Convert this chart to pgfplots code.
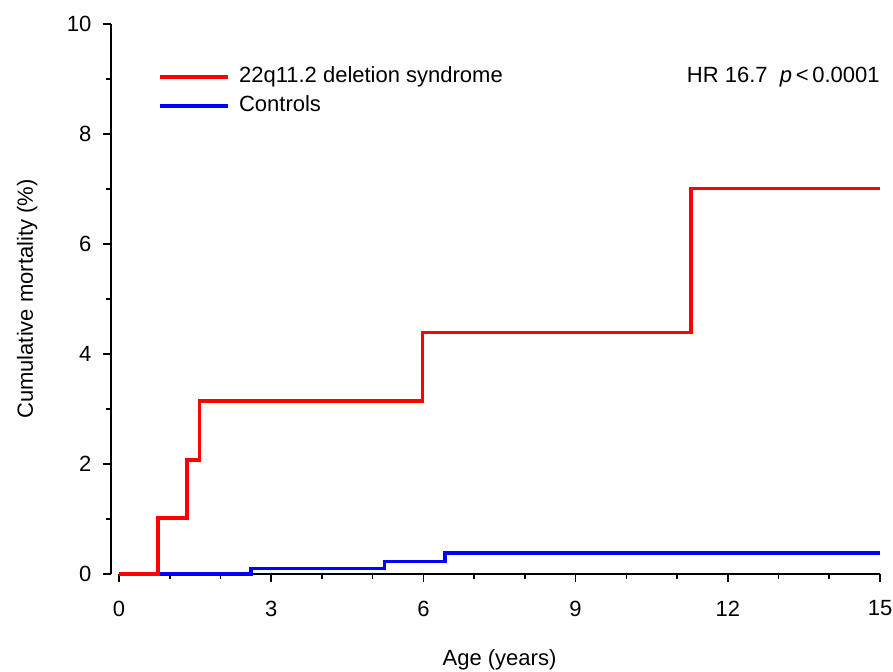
\documentclass[border=0pt]{standalone}
\usepackage{fontspec}
\setmainfont{Liberation Sans}
\usepackage{pgfplots}
\pgfplotsset{compat=1.18}
\definecolor{kmred}{RGB}{255,0,0}
\definecolor{kmblue}{RGB}{0,0,255}
\begin{document}
\fontsize{11}{13}\selectfont
\begin{tikzpicture}
\begin{axis}[
  scale only axis, width=384.5pt, height=275pt,
  xmin=-0.158, xmax=15, ymin=0, ymax=10,
  axis x line*=bottom, axis y line*=left,
  x axis line style={draw=none},
  y axis line style={black, line width=0.9pt},
  xtick={0,3,...,15}, minor xtick={0,...,15},
  ytick={0,2,...,10}, minor ytick={1,3,...,9},
  tick align=outside, major tick length=4pt, minor tick length=2.5pt,
  tick style={black, line width=0.8pt},
  /pgf/number format/assume math mode=true,
  ticklabel style={font=\fontsize{11}{13}\selectfont},
  xticklabel style={yshift=-5.5pt},
  yticklabel style={xshift=-2pt},
  clip=false,
  reverse legend,
  legend cell align=left,
  legend image code/.code={\draw[#1] (0pt,0pt) -- (34pt,0pt);},
  legend style={draw=none, fill=none, inner sep=0pt, row sep=2pt,
    font=\fontsize{11}{13}\selectfont,
    nodes={inner ysep=1pt, inner xsep=4.75pt, text height=8pt, text depth=2.5pt},
    at={(axis cs:0.76,9.27)}, anchor=north west},
]
% x axis line starts at 0, detached from the y axis
\draw[black, line width=0.9pt] (axis cs:0,0) -- (axis cs:15,0);
% controls
\addplot[kmblue, line width=1.8pt, const plot] coordinates {
  (0,0) (2.60,0.10) (5.23,0.23) (6.43,0.38) (15,0.38)};
\addlegendentry{Controls}
% 22q11.2 deletion syndrome
\addplot[kmred, line width=1.8pt, const plot] coordinates {
  (0,0) (0.77,1.02) (1.34,2.07) (1.59,3.14) (5.98,4.39) (11.28,7.01) (15,7.01)};
\addlegendentry{22q11.2 deletion syndrome}
\node[anchor=base east, inner sep=0pt] at ([yshift=-2pt]axis cs:15,9.0) {HR 16.7\ \ {\itshape p}\,<\,0.0001};
\node[anchor=base] at ([xshift=2pt,yshift=-46pt]axis description cs:0.5,0) {Age (years)};
\node[anchor=base, rotate=90] at ([xshift=-39pt]axis description cs:0,0.5) {Cumulative mortality (\%)};
\end{axis}
\pgfresetboundingbox
\path[use as bounding box] (-55.5pt,-49pt) rectangle (391pt,287pt);
\end{tikzpicture}
\end{document}
